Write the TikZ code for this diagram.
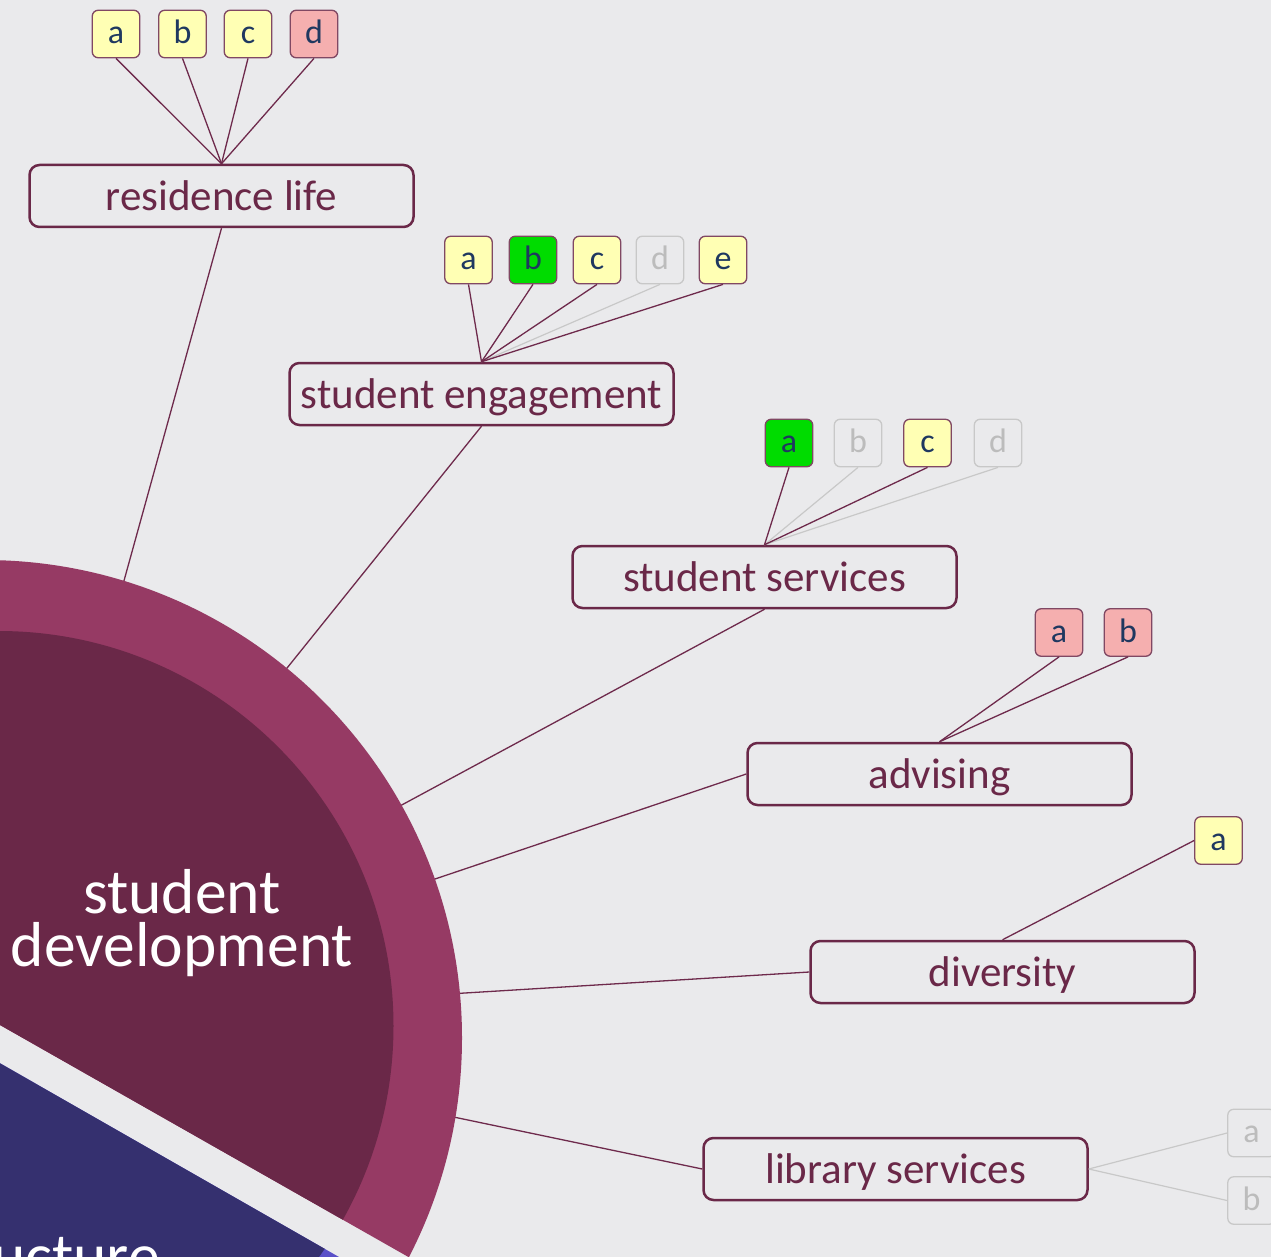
\documentclass[tikz,border=0pt]{standalone}
\usepackage{fontspec}
\setmainfont{Carlito}
\usetikzlibrary{calc}
\definecolor{bg}{RGB}{234,234,236}
\definecolor{plum}{RGB}{106,40,72}
\definecolor{ringc}{RGB}{150,58,100}
\definecolor{navy}{RGB}{53,48,111}
\definecolor{navyring}{RGB}{90,80,200}
\definecolor{boxtxt}{RGB}{31,56,96}
\definecolor{yel}{RGB}{255,255,180}
\definecolor{pnk}{RGB}{245,175,175}
\definecolor{grn}{RGB}{0,220,0}
\definecolor{gry}{RGB}{200,200,200}
\definecolor{grytxt}{RGB}{188,188,188}
\definecolor{linec}{RGB}{110,42,76}
\tikzset{
  topic/.style={draw=plum, fill=bg, line width=2.5pt, rounded corners=10pt,
    minimum width=384pt, minimum height=62pt, inner sep=0pt, text=plum,
    text height=29.5pt, text depth=0pt, font=\fontsize{43}{51}\selectfont},
  sub/.style={draw=plum!85, line width=1.3pt, rounded corners=6pt,
    minimum width=47.5pt, minimum height=47.5pt, inner sep=0pt, text=boxtxt,
    text height=19pt, text depth=0pt, font=\fontsize{34}{40}\selectfont},
  subY/.style={sub, fill=yel},
  subP/.style={sub, fill=pnk},
  subG/.style={sub, fill=grn},
  subN/.style={sub, draw=gry, fill=bg, text=grytxt},
  link/.style={draw=linec, line width=1.3pt},
  glink/.style={draw=gry, line width=1.2pt},
  bigtext/.style={font=\fontsize{63.5}{53}\selectfont, text=white, inner sep=0pt},
}
\begin{document}
\begin{tikzpicture}[x=1pt,y=-1pt]
\fill[bg] (0,0) rectangle (1271,1257);
\useasboundingbox (0,0) rectangle (1271,1257);
\clip (0,0) rectangle (1271,1257);

% main topic boxes
\node[topic] (rl)  at (221.5,196)  {residence life};
\node[topic] (se)  at (481.5,394)  {student engagement};
\node[topic] (ss)  at (764.5,577)  {student services};
\node[topic] (adv) at (939.5,774)  {advising};
\node[topic] (div) at (1002.5,972) {diversity};
\node[topic] (lib) at (895.5,1169) {library services};

% residence life subs
\node[subY] (rla) at (116,34) {a};
\node[subY] (rlb) at (182.5,34) {b};
\node[subY] (rlc) at (248,34) {c};
\node[subP] (rld) at (314,34) {d};
% student engagement subs
\node[subY] (sea) at (468.5,260) {a};
\node[subG] (seb) at (533,260) {b};
\node[subY] (sec) at (597,260) {c};
\node[subN] (sed) at (660,260) {d};
\node[subY] (see) at (723,260) {e};
% student services subs
\node[subG] (ssa) at (789,443) {a};
\node[subN] (ssb) at (858,443) {b};
\node[subY] (ssc) at (927.5,443) {c};
\node[subN] (ssd) at (998,443) {d};
% advising subs
\node[subP] (ada) at (1059,632.5) {a};
\node[subP] (adb) at (1128,632.5) {b};
% diversity sub
\node[subY] (dva) at (1218.5,840.5) {a};
% library subs
\node[subN] (lba) at (1251.5,1133) {a};
\node[subN] (lbb) at (1251.5,1200.5) {b};

% sub links
\foreach \s in {rla,rlb,rlc,rld} \draw[link] (\s.south) -- (rl.north);
\draw[glink] (sed.south) -- (se.north);
\foreach \s in {sea,seb,sec,see} \draw[link] (\s.south) -- (se.north);
\draw[glink] (ssb.south) -- (ss.north);
\draw[glink] (ssd.south) -- (ss.north);
\foreach \s in {ssa,ssc} \draw[link] (\s.south) -- (ss.north);
\foreach \s in {ada,adb} \draw[link] (\s.south) -- (adv.north);
\draw[link] (dva.west) -- (div.north);
\draw[glink] (lib.east) -- (lba.west);
\draw[glink] (lib.east) -- (lbb.west);

% hub ends of the main connectors
\coordinate (hrl)  at (124,580.7);
\coordinate (hse)  at (287.3,667.7);
\coordinate (hss)  at (401.7,805);
\coordinate (hadv) at (435,879);
\coordinate (hdiv) at (460,993.3);
\coordinate (hlib) at (455,1117.3);
\draw[link] (rl.south)  -- ($(rl.south)!1.04!(hrl)$);
\draw[link] (se.south)  -- ($(se.south)!1.04!(hse)$);
\draw[link] (ss.south)  -- ($(ss.south)!1.04!(hss)$);
\draw[link] (adv.west)  -- ($(adv.west)!1.04!(hadv)$);
\draw[link] (div.west)  -- ($(div.west)!1.04!(hdiv)$);
\draw[link] (lib.west)  -- ($(lib.west)!1.04!(hlib)$);

% hub sectors
\begin{scope}
  \clip (-50,996.6) -- (700,1422.6) -- (700,-50) -- (-50,-50) -- cycle;
  \fill[ringc] (-16,1038) circle[radius=478pt];
  \fill[plum] (-1.5,1026) circle[radius=395pt];
\end{scope}
\begin{scope}
  \clip (-50,1034.7) -- (700,1463.3) -- (-50,1463.3) -- cycle;
  \fill[navyring] (-16,1038) circle[radius=478pt];
  \fill[navy] (-1.5,1026) circle[radius=395pt];
\end{scope}

\node[bigtext, align=center] (sd) at (182,923) {student\\development};
\node[bigtext, anchor=base east] (inf) at (160,1277) {ucture};
\end{tikzpicture}
\end{document}
